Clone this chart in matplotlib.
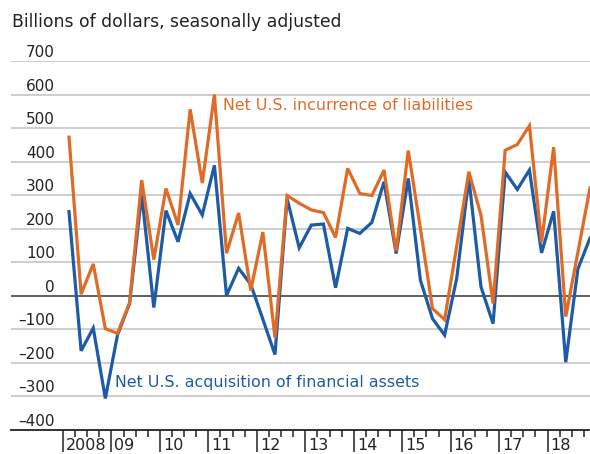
import numpy as np
import matplotlib
matplotlib.use("Agg")
import matplotlib.pyplot as plt

plt.rcParams['font.family'] = ['DejaVu Sans']

# quarterly data, 2008Q1 - 2018Q4, billions of dollars
liabilities = [473, 5, 95, -98, -112, -21, 345, 108, 320, 211, 556, 336,
               600, 127, 247, 16, 190, -125, 299, 276, 256, 248, 174, 380,
               305, 299, 375, 133, 433, 201, -38, -71, 148, 370, 241, -23,
               434, 451, 507, 160, 443, -62, 130, 322]
assets = [251, -164, -96, -306, -117, -23, 303, -35, 254, 161, 305, 241,
          389, 1, 82, 34, -70, -175, 290, 143, 211, 214, 24, 201,
          186, 219, 340, 126, 350, 47, -68, -117, 52, 350, 27, -83,
          369, 317, 375, 128, 252, -198, 80, 172]
years = ["2008", "09", "10", "11", "12", "13", "14", "15", "16", "17", "18"]
y_ticks = [700, 600, 500, 400, 300, 200, 100, 0, -100, -200, -300, -400]

orange = "#e06b26"
blue = "#1d5ba6"

W, H = 590, 454
fig = plt.figure(figsize=(W / 100, H / 100), dpi=100)
ax = fig.add_axes([11 / W, (H - 430) / H, 579 / W, 369 / H])

x = np.arange(len(liabilities))
ax.set_xlim((11 - 69) / 12.116, 43)
ax.set_ylim(-400, 700)

# gridlines
for v in y_ticks:
    if v == -400:
        continue
    if v == 0:
        ax.axhline(v, color="#444444", lw=1.2, zorder=1)
    else:
        ax.axhline(v, color="#c6c6c6", lw=1.2, zorder=1)

ax.plot(x, assets, color=blue, lw=2.3, zorder=3, solid_joinstyle="miter")
ax.plot(x, liabilities, color=orange, lw=2.3, zorder=3, solid_joinstyle="miter")

# y labels sit above their gridlines
ytrans = matplotlib.transforms.blended_transform_factory(ax.transAxes, ax.transData)
for v in y_ticks:
    ax.text((55 - 11) / 579, v + 12, str(v).replace("-", "\u2013"), transform=ytrans,
            ha="right", va="baseline", fontsize=11, color="#222222")

# x axis
for s in ["top", "left", "right"]:
    ax.spines[s].set_visible(False)
ax.spines["bottom"].set_color("#222222")
ax.spines["bottom"].set_linewidth(1.3)
ax.set_yticks([])
major = [4 * k - 0.5 for k in range(len(years))]
minor = [q - 0.5 for q in range(44) if q % 4 != 0]
ax.set_xticks(major)
ax.set_xticks(minor, minor=True)
ax.set_xticklabels([])
ax.tick_params(axis="x", which="major", length=16, width=1.1, color="#222222")
ax.tick_params(axis="x", which="minor", length=5, width=1.1, color="#222222")
xtrans = matplotlib.transforms.blended_transform_factory(ax.transData, ax.transAxes)
for pos, lab in zip(major, years):
    ax.text(pos + 0.25, -15 / 369, lab, transform=xtrans, ha="left", va="center",
            fontsize=11.5, color="#222222")

fig.text(12 / W, 1 - 27 / H, "Billions of dollars, seasonally adjusted",
         fontsize=12.4, color="#222222", va="baseline")
fig.text(223 / W, 1 - 105 / H, "Net U.S. incurrence of liabilities",
         fontsize=11.4, color=orange, va="center")
fig.text(115 / W, 1 - 383 / H, "Net U.S. acquisition of financial assets",
         fontsize=11.4, color=blue, va="center")

fig.savefig("out.png", dpi=100)
